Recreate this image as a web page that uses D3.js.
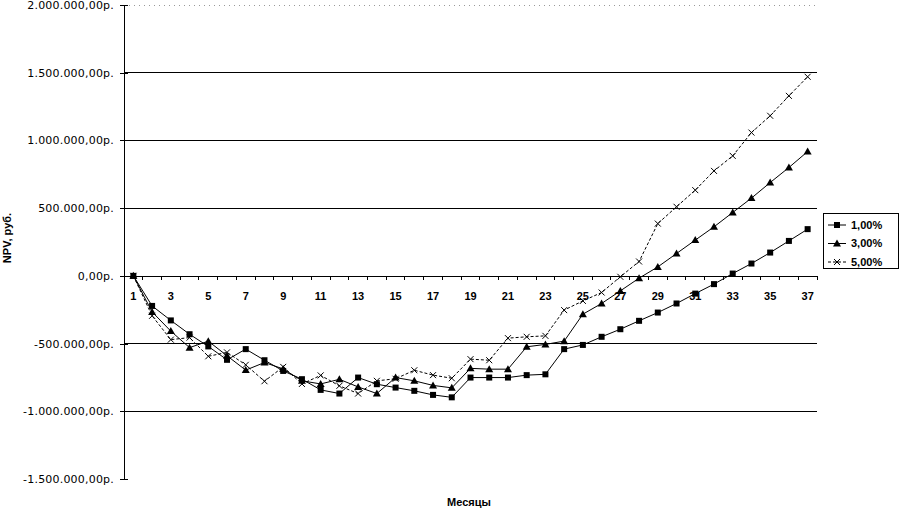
<!DOCTYPE html>
<html>
<head>
<meta charset="utf-8">
<script src="https://cdn.jsdelivr.net/npm/d3@7"></script>
<style>
  body { margin: 0; background: #fff; }
  svg { display: block; font-family: 'DejaVu Sans', Arial, sans-serif; }
</style>
</head>
<body>
<svg id="chart" width="900" height="509"></svg>
<script>
// месяцы 1..37
const months = d3.range(1, 38);

// NPV, руб. при ставке 1%, 3%, 5%
const npv1 = [0, -222000, -329000, -431000, -521000, -620000, -541000, -623000, -702000, -763000,
  -842000, -869000, -751000, -800000, -825000, -849000, -879000, -897000, -751000, -751000,
  -751000, -733000, -727000, -541000, -510000, -450000, -394000, -332000, -271000, -204000,
  -131000, -61000, 17000, 91000, 172000, 258000, 345000];
const npv3 = [0, -266000, -408000, -530000, -482000, -590000, -696000, -640000, -687000, -775000,
  -798000, -764000, -820000, -869000, -751000, -775000, -809000, -827000, -683000, -689000,
  -689000, -524000, -506000, -482000, -283000, -204000, -111000, -17000, 66000, 165000,
  264000, 362000, 468000, 574000, 689000, 800000, 918000];
const npv5 = [0, -295000, -471000, -456000, -594000, -565000, -657000, -778000, -672000, -798000,
  -735000, -812000, -869000, -775000, -760000, -697000, -733000, -756000, -615000, -623000,
  -460000, -450000, -443000, -253000, -185000, -123000, -7000, 106000, 386000, 510000,
  633000, 775000, 886000, 1058000, 1182000, 1329000, 1470000];

const seriesNames = ['1,00%', '3,00%', '5,00%'];
const yTicks = [-1500000, -1000000, -500000, 0, 500000, 1000000, 1500000, 2000000];

const series = [
  { name: seriesNames[0], values: npv1, marker: 'square', dash: null },
  { name: seriesNames[1], values: npv3, marker: 'triangle', dash: null },
  { name: seriesNames[2], values: npv5, marker: 'cross', dash: '3,2' },
];

const svg = d3.select('#chart');
const plot = { left: 124, right: 817, top: 5, bottom: 479 };

const x = d3.scaleBand()
  .domain(months)
  .range([plot.left, plot.right])
  .padding(0);

const y = d3.scaleLinear()
  .domain([-1500000, 2000000])
  .range([plot.bottom, plot.top]);

const cx = m => x(m) + x.bandwidth() / 2;

// формат "1.500.000,00р."
const fmt = (v) => {
  const s = d3.format(',.2f')(Math.abs(v)).replace(/,/g, ' ').replace('.', ',').replace(/ /g, '.');
  return `${v < 0 ? '-' : ''}${s}р.`;
};

// сетка
svg.append('g')
  .selectAll('line')
  .data(yTicks.filter(d => d > -1500000 && d !== 0))
  .enter()
  .append('line')
  .attr('x1', plot.left)
  .attr('x2', plot.right)
  .attr('y1', d => y(d))
  .attr('y2', d => y(d))
  .attr('stroke', d => (d === 2000000 ? '#999' : '#000'))
  .attr('stroke-dasharray', d => (d === 2000000 ? '1,4' : null))
  .attr('stroke-width', 1)
  .attr('shape-rendering', 'crispEdges');

// ось Y
const yAxis = d3.axisLeft(y)
  .tickValues(yTicks)
  .tickSize(4)
  .tickPadding(6)
  .tickFormat(fmt);

const gy = svg.append('g')
  .attr('transform', `translate(${plot.left},0)`)
  .call(yAxis);
gy.select('.domain').attr('stroke', '#000').attr('shape-rendering', 'crispEdges');
gy.selectAll('.tick line').attr('x2', -4).attr('x1', 4).attr('shape-rendering', 'crispEdges');
gy.selectAll('.tick text')
  .attr('font-size', 11)
  .attr('font-family', "'DejaVu Sans', sans-serif")
  .attr('letter-spacing', 0.2)
  .attr('fill', '#000');

// ось X на нуле
const xAxis = d3.axisBottom(x)
  .tickValues(months.filter(m => m % 2 === 1))
  .tickSize(0)
  .tickPadding(16);

const gx = svg.append('g')
  .attr('transform', `translate(0,${y(0)})`)
  .call(xAxis);
gx.select('.domain').attr('stroke', '#000').attr('shape-rendering', 'crispEdges');
gx.selectAll('.tick text')
  .attr('font-size', 11)
  .attr('font-weight', 'bold')
  .attr('font-family', "'Liberation Sans', Arial, sans-serif")
  .attr('fill', '#000');

gx.selectAll('.boundary')
  .data(months.concat([38]))
  .enter()
  .append('line')
  .attr('class', 'boundary')
  .attr('x1', m => (m === 38 ? plot.right : x(m)))
  .attr('x2', m => (m === 38 ? plot.right : x(m)))
  .attr('y1', 0)
  .attr('y2', 4)
  .attr('stroke', '#000')
  .attr('shape-rendering', 'crispEdges');

// линии
const line = d3.line()
  .x((d, i) => cx(months[i]))
  .y(d => y(d));

const drawMarker = (g, type, px, py) => {
  if (type === 'square') {
    g.append('rect')
      .attr('x', px - 3)
      .attr('y', py - 3)
      .attr('width', 6)
      .attr('height', 6)
      .attr('fill', '#000');
  } else if (type === 'triangle') {
    g.append('path')
      .attr('d', `M${px},${py - 4}L${px + 4},${py + 3}L${px - 4},${py + 3}Z`)
      .attr('fill', '#000');
  } else {
    g.append('path')
      .attr('d', `M${px - 3},${py - 3}L${px + 3},${py + 3}M${px - 3},${py + 3}L${px + 3},${py - 3}`)
      .attr('stroke', '#000')
      .attr('stroke-width', 1);
  }
};

series.forEach((s) => {
  const g = svg.append('g');
  g.append('path')
    .datum(s.values)
    .attr('fill', 'none')
    .attr('stroke', '#000')
    .attr('stroke-width', 1)
    .attr('stroke-dasharray', s.dash)
    .attr('d', line);
  s.values.forEach((v, i) => drawMarker(g, s.marker, cx(months[i]), y(v)));
});

// легенда
const legend = svg.append('g').attr('transform', 'translate(823,213)');
legend.append('rect')
  .attr('x', 0.5)
  .attr('y', 0.5)
  .attr('width', 75)
  .attr('height', 55)
  .attr('fill', '#fff')
  .attr('stroke', '#000');

series.forEach((s, i) => {
  const ly = 12 + i * 18.5;
  const g = legend.append('g');
  g.append('line')
    .attr('x1', 5)
    .attr('x2', 23)
    .attr('y1', ly)
    .attr('y2', ly)
    .attr('stroke', '#000')
    .attr('stroke-dasharray', s.dash);
  drawMarker(g, s.marker, 14, ly);
  g.append('text')
    .attr('x', 28)
    .attr('y', ly)
    .attr('dy', '0.35em')
    .attr('font-size', 11)
    .attr('font-weight', 'bold')
    .attr('font-family', "'Liberation Sans', Arial, sans-serif")
    .text(s.name);
});

// подписи осей
svg.append('text')
  .attr('transform', 'translate(11,238) rotate(-90)')
  .attr('text-anchor', 'middle')
  .attr('font-size', 11)
  .attr('font-weight', 'bold')
  .attr('font-family', "'Liberation Sans', Arial, sans-serif")
  .text('NPV, руб.');

svg.append('text')
  .attr('x', 469)
  .attr('y', 506)
  .attr('text-anchor', 'middle')
  .attr('font-size', 11)
  .attr('font-weight', 'bold')
  .attr('font-family', "'Liberation Sans', Arial, sans-serif")
  .text('Месяцы');
</script>
</body>
</html>
